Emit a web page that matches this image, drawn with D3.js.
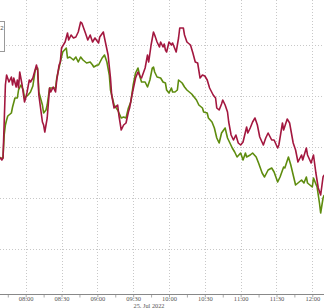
<!DOCTYPE html>
<html>
<head>
<meta charset="utf-8">
<script src="https://cdn.jsdelivr.net/npm/d3@7"></script>
<style>
  html, body { margin: 0; padding: 0; background: #fff; }
  svg { display: block; }
</style>
</head>
<body>
<div id="chart"></div>
<script>
// ---- data ----
const dateLabel = "25. Jul 2022";
const legendLabel = "2";
const gridValues = [0, 51, 102, 153, 204];
const majorTicks = ["08:00","08:30","09:00","09:30","10:00","10:30","11:00","11:30","12:00"];
const minorTicks = ["07:45","08:15","08:45","09:15","09:45","10:15","10:45","11:15","11:45"];

const redTimes = ["07:38","07:40","07:41","07:42","07:43","07:44","07:46","07:48","07:49","07:50","07:52","07:53","07:54","07:55","07:57","07:59","08:00","08:01","08:03","08:04","08:06","08:09","08:10","08:11","08:14","08:15","08:16","08:18","08:20","08:21","08:23","08:25","08:26","08:28","08:29","08:30","08:33","08:35","08:36","08:38","08:40","08:42","08:44","08:46","08:47","08:50","08:52","08:54","08:56","08:58","09:01","09:02","09:05","09:06","09:09","09:11","09:12","09:14","09:17","09:18","09:20","09:22","09:24","09:26","09:27","09:29","09:32","09:34","09:36","09:37","09:40","09:42","09:43","09:45","09:47","09:48","09:50","09:52","09:53","09:55","09:56","09:57","09:58","10:00","10:02","10:03","10:06","10:08","10:09","10:12","10:13","10:15","10:18","10:20","10:22","10:24","10:26","10:28","10:30","10:32","10:34","10:37","10:39","10:40","10:42","10:44","10:45","10:47","10:49","10:50","10:52","10:54","10:56","10:58","11:00","11:02","11:05","11:06","11:08","11:10","11:12","11:14","11:16","11:19","11:21","11:23","11:26","11:28","11:31","11:32","11:35","11:36","11:39","11:41","11:44","11:46","11:48","11:51","11:52","11:55","11:56","11:59","12:01","12:03","12:05","12:07","12:09","12:10"];
const redValues = [93,90,92,128,165,175,168,173,165,172,163,170,162,178,165,148,152,157,170,168,172,185,180,155,128,125,118,132,162,158,163,158,170,185,188,202,208,217,210,215,212,213,218,228,227,217,210,215,208,212,207,213,218,212,195,172,155,142,145,135,120,125,127,138,142,155,172,178,173,172,182,195,188,205,218,215,208,203,208,203,206,200,198,208,205,207,198,212,222,222,215,208,205,197,188,187,172,175,174,170,162,155,152,142,140,146,150,145,138,128,115,110,115,107,105,108,123,117,122,128,132,125,113,105,112,117,110,110,102,105,127,120,131,127,107,100,88,95,90,102,95,87,95,77,62,55,73,75];

const greenTimes = ["07:38","07:41","07:42","07:43","07:44","07:45","07:48","07:49","07:51","07:53","07:54","07:56","07:58","07:59","08:02","08:04","08:06","08:08","08:10","08:11","08:14","08:15","08:17","08:18","08:20","08:22","08:25","08:26","08:29","08:31","08:34","08:35","08:37","08:40","08:42","08:44","08:46","08:48","08:51","08:54","08:56","08:57","09:00","09:01","09:04","09:06","09:08","09:10","09:11","09:14","09:17","09:20","09:22","09:24","09:26","09:28","09:30","09:32","09:34","09:36","09:37","09:40","09:42","09:44","09:46","09:47","09:48","09:50","09:53","09:55","09:57","09:58","10:00","10:02","10:03","10:05","10:07","10:08","10:11","10:13","10:15","10:17","10:19","10:21","10:23","10:25","10:28","10:29","10:32","10:33","10:36","10:38","10:40","10:42","10:44","10:47","10:49","10:53","10:55","10:57","11:00","11:02","11:04","11:05","11:08","11:10","11:13","11:15","11:18","11:20","11:23","11:26","11:28","11:31","11:33","11:36","11:37","11:40","11:42","11:44","11:46","11:49","11:51","11:53","11:55","11:56","12:00","12:01","12:04","12:06","12:07","12:09","12:10"];
const greenValues = [92,92,115,125,130,134,137,143,152,152,160,165,160,152,155,158,164,180,182,158,145,137,140,145,162,162,162,172,188,198,202,192,193,190,193,188,193,190,187,188,185,183,185,185,192,195,188,175,160,145,140,132,133,132,142,148,165,177,182,172,168,168,163,170,182,183,178,173,172,168,167,160,157,162,158,158,160,170,167,163,160,158,156,153,150,145,142,138,137,132,128,122,112,107,117,122,112,102,98,93,97,90,97,93,95,97,93,87,77,73,80,82,78,68,73,83,82,93,85,75,65,68,70,67,73,67,63,72,63,47,37,52,55];

// ---- setup ----
const W = 324, H = 308;
const parse = s => { const [h, m] = s.split(":").map(Number); return new Date(2022, 6, 25, h, m); };
const x = d3.scaleTime().domain([parse("08:00"), parse("12:00")]).range([25.7, 312.3]);
const y = d3.scaleLinear().domain([0, 250]).range([250, 0]);
const axisY = 294.5;
const crisp = v => Math.round(v) + 0.5;
const serif = "'Liberation Serif', 'DejaVu Serif', serif";

const svg = d3.select("#chart").append("svg").attr("width", W).attr("height", H);

// horizontal grid
svg.append("g").selectAll("line").data(gridValues).join("line")
  .attr("x1", 0).attr("x2", W)
  .attr("y1", d => Math.round(y(d)) - 0.5).attr("y2", d => Math.round(y(d)) - 0.5)
  .attr("stroke", "#c8c8c8").attr("stroke-width", 1).attr("stroke-dasharray", "1,2");

// vertical grid
svg.append("g").selectAll("line").data(majorTicks).join("line")
  .attr("x1", d => crisp(x(parse(d)))).attr("x2", d => crisp(x(parse(d))))
  .attr("y1", 0).attr("y2", axisY)
  .attr("stroke", "#c8c8c8").attr("stroke-width", 1).attr("stroke-dasharray", "1,2");

// lines
const lineGen = d3.line().x(d => x(d[0])).y(d => y(d[1]));
const greenData = greenTimes.map((t, i) => [parse(t), greenValues[i]]);
const redData = redTimes.map((t, i) => [parse(t), redValues[i]]);
svg.append("path").datum(greenData).attr("d", lineGen)
  .attr("fill", "none").attr("stroke", "#5e8c0e").attr("stroke-width", 1.6).attr("stroke-linejoin", "round");
svg.append("path").datum(redData).attr("d", lineGen)
  .attr("fill", "none").attr("stroke", "#a3173f").attr("stroke-width", 1.6).attr("stroke-linejoin", "round");

// x axis
const allTicks = majorTicks.concat(minorTicks).map(parse).sort((a, b) => a - b);
const majorSet = new Set(majorTicks);
const fmt = d3.timeFormat("%H:%M");
const axis = d3.axisBottom(x).tickValues(allTicks).tickSize(3).tickPadding(0)
  .tickFormat(d => majorSet.has(fmt(d)) ? fmt(d) : "");
const gx = svg.append("g").attr("transform", `translate(0,${axisY})`).call(axis);
gx.select(".domain").remove();
gx.selectAll(".tick line").attr("stroke", "#aaa");
gx.selectAll(".tick text").attr("fill", "#555").attr("y", 6.5).attr("dy", 0)
  .style("font-family", serif).style("font-size", "6.5px");
svg.append("line").attr("x1", 0).attr("x2", W).attr("y1", axisY).attr("y2", axisY)
  .attr("stroke", "#888").attr("stroke-width", 1);

svg.append("text").attr("x", 149).attr("y", 308.3).attr("text-anchor", "middle")
  .attr("fill", "#555").style("font-family", serif).style("font-size", "6.3px")
  .text(dateLabel);

// legend (partially outside the left edge)
svg.append("rect").attr("x", -60.5).attr("y", 21.5).attr("width", 65).attr("height", 30)
  .attr("fill", "#fff").attr("stroke", "#999").attr("stroke-width", 1);
svg.append("text").attr("x", 3.5).attr("y", 30).attr("text-anchor", "end")
  .attr("fill", "#555").style("font-family", "'Liberation Sans', sans-serif").style("font-size", "6px")
  .text(legendLabel);
</script>
</body>
</html>
